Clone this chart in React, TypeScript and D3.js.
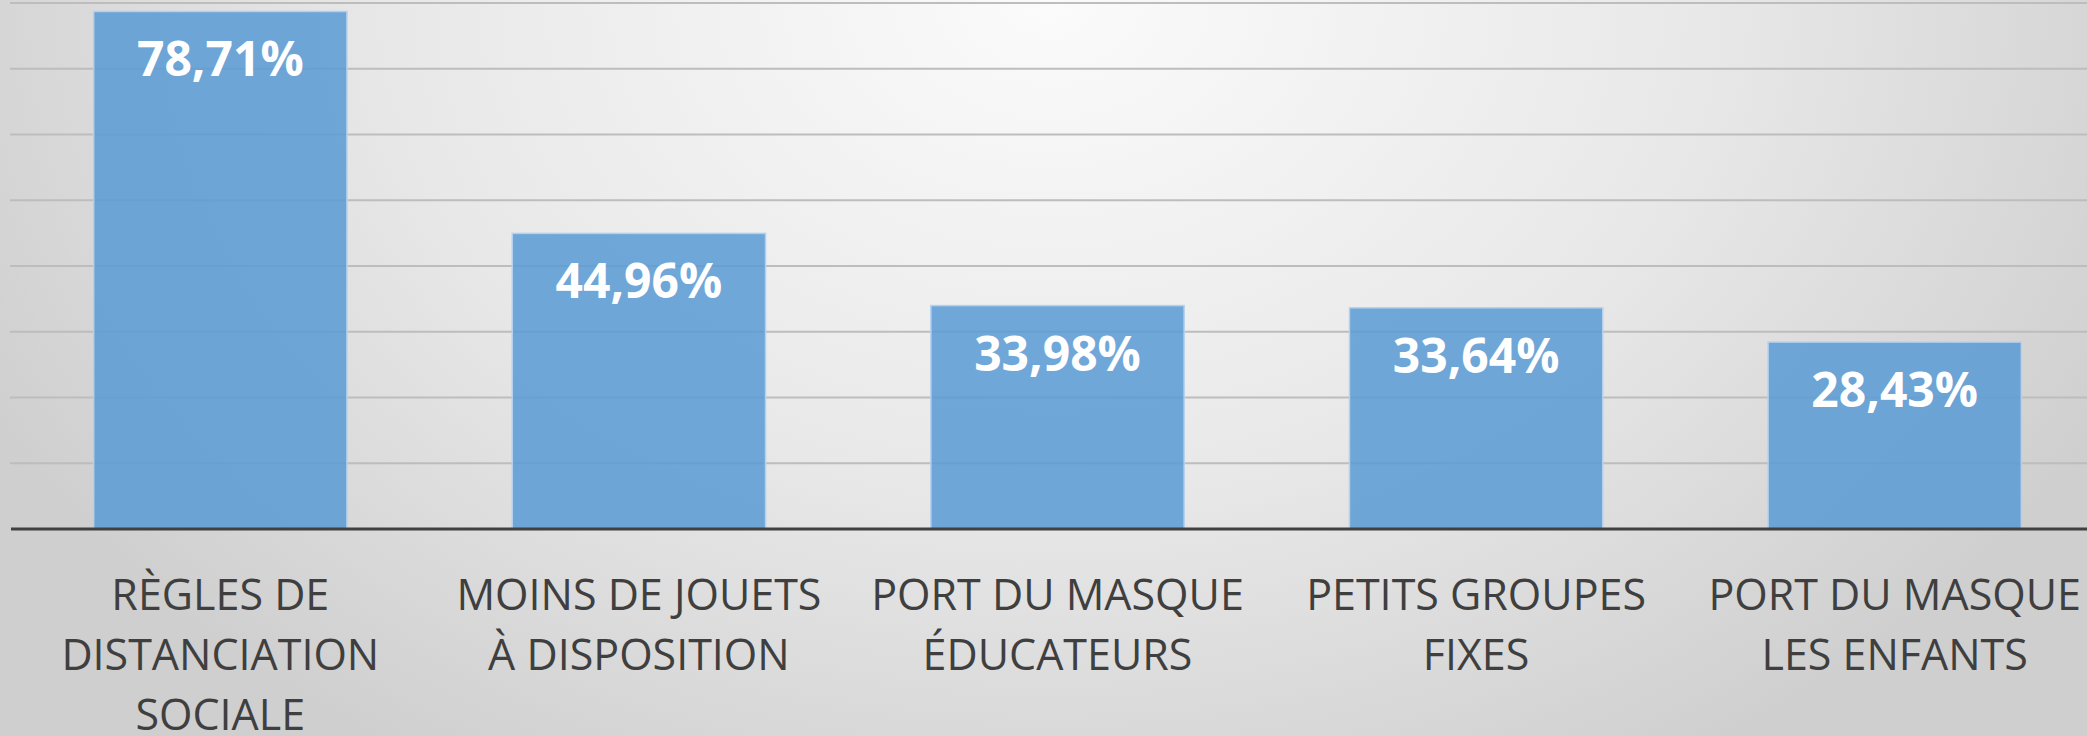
import React, { useEffect, useRef } from "react";
import * as d3 from "d3";

const categories = [
  ["RÈGLES DE", "DISTANCIATION", "SOCIALE"],
  ["MOINS DE JOUETS", "À DISPOSITION"],
  ["PORT DU MASQUE", "ÉDUCATEURS"],
  ["PETITS GROUPES", "FIXES"],
  ["PORT DU MASQUE", "LES ENFANTS"],
];
const values = [78.71, 44.96, 33.98, 33.64, 28.43];
const gridTicks = [0, 10, 20, 30, 40, 50, 60, 70, 80];

const W = 2087;
const H = 736;

const App = () => {
  const svgRef = useRef<SVGSVGElement>(null);

  useEffect(() => {
    const svg = d3.select(svgRef.current);
    svg.selectAll("*").remove();

    // background gradient
    const defs = svg.append("defs");
    const grad = defs
      .append("radialGradient")
      .attr("id", "bg")
      .attr("gradientUnits", "userSpaceOnUse")
      .attr("cx", 1050)
      .attr("cy", 0)
      .attr("r", 1200)
      .attr("gradientTransform", "translate(1050,0) scale(1,0.75) translate(-1050,0)");
    grad.append("stop").attr("offset", "0%").attr("stop-color", "#fbfbfb");
    grad.append("stop").attr("offset", "55%").attr("stop-color", "#e8e8e8");
    grad.append("stop").attr("offset", "100%").attr("stop-color", "#cfcfcf");

    svg.append("rect").attr("width", W).attr("height", H).attr("fill", "url(#bg)");

    const ids = categories.map((_, i) => String(i));
    const x = d3.scaleBand().domain(ids).range([11, 2104]).paddingInner(0.395).paddingOuter(0.1975);
    const y = d3.scaleLinear().domain([0, 80]).range([529, 3]);

    // gridlines
    svg
      .append("g")
      .selectAll("line")
      .data(gridTicks.slice(1))
      .join("line")
      .attr("x1", 10)
      .attr("x2", W)
      .attr("y1", (d) => y(d))
      .attr("y2", (d) => y(d))
      .attr("stroke", "#bdbdbd")
      .attr("stroke-width", 2.2);

    // bars
    svg
      .append("g")
      .selectAll("rect")
      .data(values)
      .join("rect")
      .attr("x", (_, i) => x(String(i))!)
      .attr("y", (d) => y(d))
      .attr("width", x.bandwidth())
      .attr("height", (d) => y(0) - y(d))
      .attr("fill", "#5b9bd5")
      .attr("fill-opacity", 0.86)
      .attr("stroke", "#b4d0ee")
      .attr("stroke-width", 1.5);

    // axis line
    svg
      .append("line")
      .attr("x1", 11)
      .attr("x2", W)
      .attr("y1", y(0))
      .attr("y2", y(0))
      .attr("stroke", "#404040")
      .attr("stroke-width", 3.2);

    // value labels
    svg
      .append("g")
      .selectAll("text")
      .data(values)
      .join("text")
      .attr("x", (_, i) => x(String(i))! + x.bandwidth() / 2)
      .attr("y", (d) => y(d) + 65)
      .attr("text-anchor", "middle")
      .attr("fill", "#ffffff")
      .attr("font-family", "'Open Sans', sans-serif")
      .attr("font-weight", 700)
      .attr("font-size", 48)
      .text((d) => d.toFixed(2).replace(".", ",") + "%");

    // category labels
    const cat = svg
      .append("g")
      .selectAll("text")
      .data(categories)
      .join("text")
      .attr("x", (_, i) => x(String(i))! + x.bandwidth() / 2)
      .attr("y", 610)
      .attr("text-anchor", "middle")
      .attr("fill", "#3f3f3f")
      .attr("font-family", "'Open Sans', sans-serif")
      .attr("font-size", 43);
    cat
      .selectAll("tspan")
      .data((d) => d)
      .join("tspan")
      .attr("x", function () {
        return (this.parentNode as SVGTextElement).getAttribute("x");
      })
      .attr("dy", (_, j) => (j === 0 ? 0 : 60))
      .text((d) => d);
  }, []);

  return (
    <svg
      ref={svgRef}
      width={W}
      height={H}
      style={{ position: "absolute", left: 0, top: 0, display: "block" }}
    />
  );
};

export default App;
